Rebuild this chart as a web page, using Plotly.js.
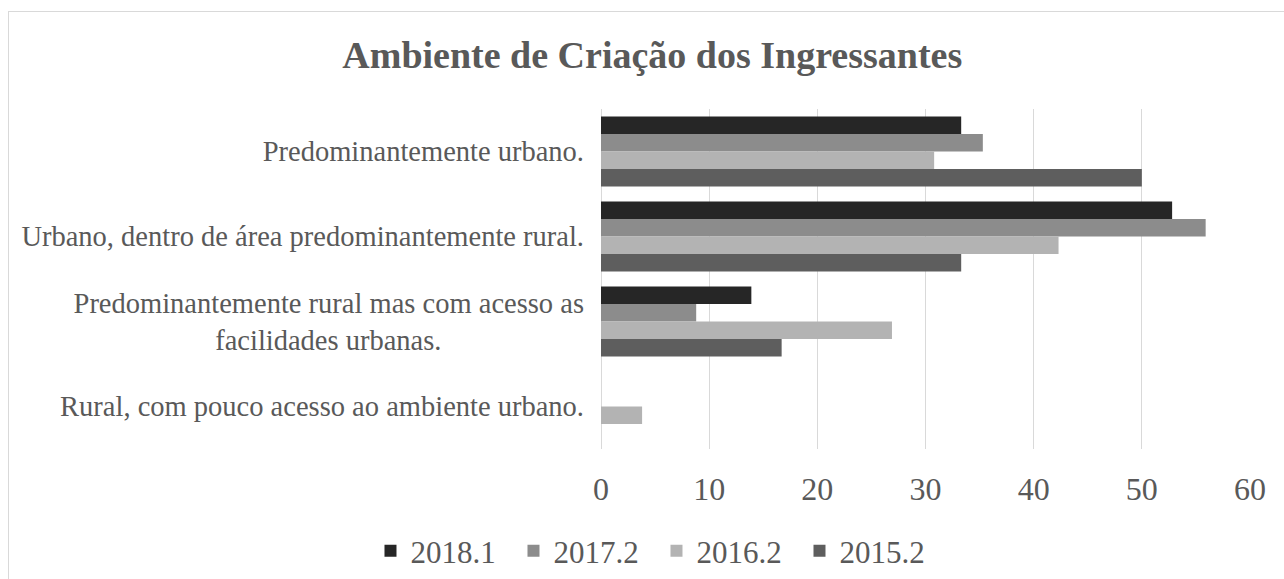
<!DOCTYPE html>
<html>
<head>
<meta charset="utf-8">
<script src="https://cdn.plot.ly/plotly-3.0.1.min.js"></script>
<style>
html,body{margin:0;padding:0;background:#fff;overflow:hidden;}
#frame{position:absolute;left:8px;top:11px;width:1300px;height:600px;border:1px solid #d9d9d9;box-sizing:border-box;}
#chart{position:absolute;left:0;top:0;width:1284px;height:579px;}
</style>
</head>
<body>
<div id="frame"></div>
<div id="chart"></div>
<script>
const categories = [
  "Predominantemente urbano.",
  "Urbano, dentro de área predominantemente rural.",
  "Predominantemente rural mas com acesso as facilidades urbanas.",
  "Rural, com pouco acesso ao ambiente urbano."
];
const pad = "\u00a0".repeat(20);
const tickLabels = [
  "Predominantemente urbano.",
  "Urbano, dentro de área predominantemente rural.",
  "Predominantemente rural mas com acesso as<br>facilidades urbanas." + pad,
  "Rural, com pouco acesso ao ambiente urbano."
];
const seriesNames = ["2018.1", "2017.2", "2016.2", "2015.2"];
const s2018_1 = [33.3, 52.8, 13.9, 0];
const s2017_2 = [35.3, 55.9, 8.8, 0];
const s2016_2 = [30.8, 42.3, 26.9, 3.8];
const s2015_2 = [50.0, 33.3, 16.7, 0];
const seriesValues = [s2018_1, s2017_2, s2016_2, s2015_2];
const seriesColors = ["#262626", "#8c8c8c", "#b3b3b3", "#5e5e5e"];

const traces = seriesNames.map((name, i) => ({
  type: "bar",
  orientation: "h",
  name: name,
  y: categories,
  x: seriesValues[i],
  marker: {color: seriesColors[i], line: {width: 0}},
  hoverinfo: "x+name"
}));

const font = "'Liberation Serif', 'Times New Roman', serif";
const layout = {
  width: 1284,
  height: 579,
  paper_bgcolor: "rgba(0,0,0,0)",
  plot_bgcolor: "rgba(0,0,0,0)",
  margin: {l: 601, r: 34, t: 109, b: 130, autoexpand: false},
  barmode: "group",
  bargap: 0.176,
  bargroupgap: 0,
  title: {
    text: "<b>Ambiente de Criação dos Ingressantes</b>",
    font: {family: font, size: 38, color: "#595959"},
    x: 0.508, xanchor: "center", xref: "container",
    y: 0.905, yanchor: "middle", yref: "container"
  },
  xaxis: {
    range: [0, 60],
    dtick: 10,
    tick0: 0,
    showgrid: true,
    gridcolor: "#d9d9d9",
    gridwidth: 1,
    zeroline: true,
    zerolinecolor: "#d9d9d9",
    zerolinewidth: 1,
    showline: false,
    ticks: "",
    ticklabelstandoff: 18,
    tickfont: {family: font, size: 32, color: "#595959"}
  },
  yaxis: {
    type: "category",
    autorange: "reversed",
    tickvals: categories,
    ticktext: tickLabels,
    showgrid: false,
    zeroline: false,
    showline: false,
    ticks: "",
    ticklabelstandoff: 16,
    tickfont: {family: font, size: 28.5, color: "#595959"}
  },
  legend: {
    orientation: "h",
    x: 0.0855, xanchor: "center",
    y: -0.30, yanchor: "middle",
    font: {family: font, size: 31, color: "#595959"},
    itemwidth: 30,
    entrywidth: 98,
    entrywidthmode: "pixels",
    traceorder: "normal",
    bgcolor: "rgba(0,0,0,0)"
  },
  showlegend: true
};

Plotly.newPlot("chart", traces, layout, {displayModeBar: false, staticPlot: true});
</script>
</body>
</html>
